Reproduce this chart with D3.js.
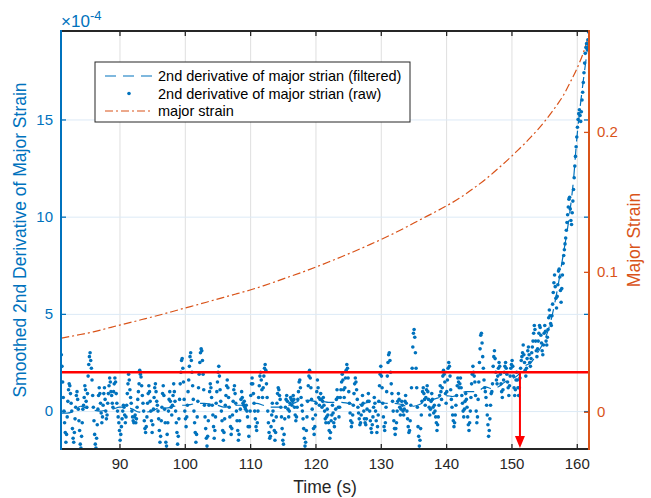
<!DOCTYPE html>
<html>
<head>
<meta charset="utf-8">
<script src="https://cdn.jsdelivr.net/npm/d3@7/dist/d3.min.js"></script>
<style>
body { margin: 0; background: #fff; }
svg text { font-family: "Liberation Sans", Arial, sans-serif; }
</style>
</head>
<body>
<div id="chart"></div>
<script>
// raw 2nd derivative, sampled every 0.1 s from 81.1 s (units of 1e-4)
const rawStart = 81.1, rawStep = 0.1;
const rawDeriv = [
  2.9, 2.3, 1.5, 0.7, 0.0, -0.6, -1.1, -1.6, -1.2, -0.3,
  0.5, 1.1, 1.4, 1.3, 0.9, 0.4, 0.0, -0.9, -1.4, -1.6,
  -1.1, -0.4, 0.2, 0.8, 1.0, 0.6, 0.1, -0.5, -1.0, -1.7,
  -1.9, -1.3, -0.6, 0.1, 0.3, 0.7, 1.3, 1.1, 0.5, 0.2,
  0.9, 1.8, 2.4, 2.8, 3.0, 2.6, 2.2, 1.6, 0.8, 0.2,
  -0.5, -1.2, -1.7, -1.9, -1.4, -0.7, 0.1, 0.8, 1.2, 0.9,
  0.4, -0.1, -0.6, -0.3, 0.3, 0.9, 1.2, 0.6, 0.0, -0.4,
  -0.2, 0.4, 0.9, 1.3, 1.7, 1.5, 1.0, 0.8, 0.4, 0.2,
  1.0, 1.4, 1.7, 1.5, 0.9, 0.4, 0.0, -0.3, -0.6, -1.0,
  -1.5, -1.2, -0.8, -0.4, 0.0, 0.3, 0.2, -0.2, -0.6, -0.3,
  0.3, 0.9, 1.4, 1.9, 1.6, 1.1, 0.7, 0.4, 0.0, -0.3,
  -0.5, -0.6, -0.3, -0.2, -0.6, -0.4, 0.2, 0.6, 1.0, 1.4,
  2.1, 1.9, 1.75, 1.3, 0.8, 0.4, 0.0, -0.5, -0.9, -1.1,
  -0.8, -0.3, 0.4, 0.9, 1.3, 1.0, 0.5, 0.0, -0.5, -1.1,
  -0.7, 0.1, 0.7, 1.2, 1.4, 1.0, 0.5, 0.3, 0.0, -0.4,
  -1.0, -1.6, -1.3, -0.5, 0.2, 0.9, 1.3, 0.8, 0.1, -0.6,
  -1.6, -1.8, -1.2, -0.6, 0.0, 0.6, 1.0, 0.5, 0.2, -0.2,
  0.3, 0.8, 1.4, 1.0, 0.5, 0.0, -0.6, -1.1, -1.7, -1.3,
  -0.4, 0.6, 1.4, 2.0, 2.6, 2.7, 2.2, 1.5, 0.6, 0.0,
  -0.4, -0.8, -0.3, 0.3, 1.0, 1.6, 2.3, 2.8, 3.0, 2.6,
  2.0, 1.3, 0.6, 0.0, -0.6, -1.1, -1.6, -1.2, -0.3, 0.5,
  1.2, 1.9, 2.5, 3.0, 3.2, 3.1, 2.6, 1.9, 1.1, 0.3,
  -0.3, -0.9, -1.4, -1.8, -1.3, -0.5, 0.3, 1.0, 1.4, 1.2,
  0.7, 0.3, -0.2, -0.8, -1.4, -1.0, -0.3, 0.4, 1.0, 1.5,
  2.0, 2.3, 1.8, 1.1, 0.5, 0.0, -0.5, -1.0, -1.5, -1.1,
  -0.4, 0.3, 0.8, 1.3, 1.6, 1.2, 0.7, 0.2, -0.3, -0.8,
  -1.2, -0.9, -0.2, 0.5, 1.1, 1.3, 0.9, 0.4, 0.0, -0.5,
  -1.0, -1.5, -1.2, -0.5, 0.1, 0.6, 1.0, 0.7, 0.4, 0.3,
  0.5, 0.2, 0.1, 0.3, 0.0, -0.3, -0.8, -1.3, -0.8, 0.0,
  0.8, 1.4, 1.7, 1.4, 0.9, 0.4, 0.0, -0.4, -0.8, -1.0,
  -0.6, 0.0, 0.7, 1.3, 1.8, 2.0, 1.6, 1.1, 0.7, 1.2,
  1.8, 2.2, 2.4, 2.1, 1.4, 0.7, 0.0, -0.6, -1.1, -1.4,
  -1.3, -0.8, -0.2, 0.4, 0.0, -0.5, -1.0, -1.5, -1.1, -0.3,
  0.4, 0.9, 1.2, 1.1, 0.8, 0.6, 0.2, -0.3, -0.9, -1.5,
  -1.7, -1.2, -0.4, 0.2, 0.6, 0.8, 0.5, 0.1, -0.3, 0.0,
  0.4, 0.7, 0.6, 0.3, 0.5, 0.8, 0.6, 0.2, -0.2, -0.5,
  -0.3, 0.2, 0.6, 1.0, 1.5, 1.6, 1.2, 0.7, 0.3, 0.0,
  -0.4, -0.9, -1.4, -1.8, -1.6, -1.0, -0.3, 0.5, 1.3, 1.8,
  2.1, 1.7, 1.2, 0.6, 0.1, -0.4, -0.9, -1.2, -0.8, -0.2,
  0.4, 1.0, 1.6, 1.2, 0.7, 0.3, 0.6, 0.9, 0.6, 0.2,
  0.5, 0.7, 0.3, 0.0, -0.4, -0.6, -0.3, 0.1, -0.2, -0.6,
  -1.0, -1.4, -1.1, -0.5, -0.2, 0.3, -0.1, -0.6, -0.8, -0.4,
  0.1, 0.6, 1.1, 0.7, 0.2, -0.3, 0.2, 0.7, 1.1, 1.5,
  1.9, 1.6, 1.1, 0.7, 1.2, 1.7, 2.1, 2.4, 2.2, 1.7,
  1.0, 0.4, -0.1, -0.5, -0.8, -0.6, -0.2, 0.3, 0.9, 1.4,
  1.7, 1.5, 1.1, 0.6, 0.2, -0.1, -0.4, -0.7, -0.6, -0.2,
  0.3, 0.8, 0.4, 0.0, -0.4, -0.6, -0.7, -0.4, 0.1, 0.5,
  0.9, 0.5, 0.0, -0.5, -0.9, -1.1, -0.7, -0.3, 0.2, 0.7,
  0.4, 0.0, -0.5, -1.1, -0.8, -0.2, 0.5, 1.3, 1.9, 2.3,
  1.8, 1.2, 0.4, -0.3, -0.8, -1.0, -0.6, 0.2, 1.0, 1.8,
  2.5, 2.9, 3.0, 2.6, 2.0, 1.4, 0.9, 0.5, 0.0, -0.5,
  -0.9, -1.2, -0.9, -0.6, 0.0, 0.5, 0.9, 0.6, 0.2, -0.2,
  0.1, 0.5, 0.3, 0.0, -0.2, 0.1, 0.5, 0.8, 0.4, 0.0,
  -0.4, -0.8, -1.1, -1.0, -0.5, 0.3, 1.2, 2.2, 3.3, 4.0,
  4.2, 3.8, 3.0, 2.2, 1.2, 0.2, -0.8, -1.3, -1.8, -1.5,
  -0.9, -0.2, 0.5, 1.0, 1.2, 0.9, 0.6, 0.3, 0.7, 1.1,
  1.3, 1.0, 0.6, 0.2, -0.2, 0.1, 0.5, 0.9, 0.6, 0.2,
  -0.1, 0.3, 0.0, -0.3, -0.6, -1.0, -0.7, -0.3, 0.3, 0.8,
  1.3, 1.0, 0.6, 1.2, 1.8, 2.1, 1.9, 1.5, 0.9, 0.4,
  1.0, 1.6, 2.2, 2.5, 2.3, 1.8, 1.1, 0.6, 0.2, -0.2,
  -0.5, -0.8, -0.6, -0.2, 0.3, 0.8, 1.3, 1.7, 1.5, 1.2,
  1.4, 1.7, 1.2, 0.8, 0.4, 0.0, -0.3, 0.1, 0.5, 0.9,
  0.6, 0.2, -0.3, -0.7, -1.0, -0.6, 0.0, 0.7, 1.4, 1.9,
  2.3, 2.0, 1.8, 1.5, 0.8, 0.0, -0.6, -0.3, 0.6, 1.5,
  2.5, 3.2, 3.9, 4.0, 3.5, 2.8, 2.2, 1.6, 1.2, 1.0,
  0.7, 0.3, -0.2, -0.7, -1.3, -1.0, -0.4, 0.3, 0.9, 1.0,
  1.4, 2.3, 2.8, 3.1, 2.7, 2.0, 1.6, 1.4, 1.8, 2.2,
  2.5, 2.3, 1.9, 1.4, 1.0, 0.7, 1.1, 1.6, 2.0, 2.3,
  2.5, 2.2, 1.9, 1.5, 1.2, 0.8, 1.3, 1.8, 2.2, 2.4,
  2.6, 2.3, 1.8, 1.2, 0.8, 1.1, 1.6, 2.0, 1.6, 1.2,
  0.8, 1.2, 1.7, 2.2, 2.6, 2.8, 3.0, 3.4, 2.9, 2.5,
  2.1, 1.8, 2.2, 2.7, 3.1, 3.3, 2.9, 2.5, 2.3, 2.7,
  3.0, 3.3, 3.6, 4.0, 4.4, 4.2, 3.6, 3.1, 2.8, 3.2,
  3.6, 4.0, 4.4, 4.3, 3.9, 3.5, 3.1, 2.9, 3.4, 4.0,
  4.4, 4.1, 3.6, 3.4, 3.8, 4.2, 4.8, 5.2, 4.9, 4.5,
  4.4, 4.9, 5.5, 6.1, 6.6, 7.0, 6.4, 5.8, 5.3, 5.9,
  6.5, 7.2, 7.3, 6.9, 6.2, 5.6, 6.3, 7.0, 7.6, 8.0,
  8.3, 8.6, 8.9, 9.3, 9.7, 10.1, 10.5, 10.9, 11.0, 10.4,
  9.8, 9.6, 10.2, 10.8, 11.4, 12.0, 12.6, 13.1, 13.6, 14.1,
  14.6, 15.0, 15.3, 15.5, 15.2, 14.9, 15.4, 16.0, 16.4, 16.9,
  17.4, 17.9, 18.4, 18.7, 18.9, 18.6, 19.1, 19.5
];

// filtered 2nd derivative (units of 1e-4)
const filtTime = [81.1, 82, 83, 84, 85, 86, 87, 88, 89, 90,
  91, 92, 93, 94, 95, 96, 97, 98, 99, 100,
  101, 102, 103, 104, 105, 106, 107, 108, 109, 110,
  111, 112, 113, 114, 115, 116, 117, 118, 119, 120,
  121, 122, 123, 124, 125, 126, 127, 128, 129, 130,
  131, 132, 133, 134, 135, 136, 137, 138, 139, 140,
  141, 142, 143, 144, 145, 146, 147, 148, 149, 150,
  151, 152, 153, 154, 155, 156, 157, 158,
  158.5, 159, 159.5, 160, 160.5, 161, 161.5, 161.9];
const filtDeriv = [-0.1, -0.1, 0.0, 0.25, 0.15, 0.05, 0.0, 0.05, 0.1, 0.2,
  0.2, 0.1, -0.05, -0.05, 0.0, 0.15, 0.15, 0.2, 0.3, 0.3,
  0.35, 0.4, 0.4, 0.35, 0.3, 0.2, 0.25, 0.3, 0.3, 0.35,
  0.4, 0.3, 0.2, 0.2, 0.2, 0.3, 0.45, 0.55, 0.55, 0.5,
  0.5, 0.45, 0.45, 0.45, 0.4, 0.35, 0.35, 0.45, 0.5, 0.45,
  0.4, 0.4, 0.35, 0.25, 0.25, 0.35, 0.55, 0.6, 0.7, 0.8,
  0.75, 0.85, 1.0, 1.0, 1.05, 1.25, 1.15, 1.25, 1.5, 1.65,
  1.85, 2.3, 2.5, 3.0, 3.6, 4.6, 6.2, 8.2,
  9.2, 10.4, 11.9, 14.0, 15.6, 17.0, 18.3, 19.4];

// major strain (right axis)
const strainTime = [81.1, 84, 86, 88, 90, 92, 94, 96, 98, 100,
  102, 104, 106, 108, 110, 112, 114, 116, 118, 120,
  122, 124, 126, 128, 130, 132, 134, 136, 138, 140,
  142, 144, 146, 148, 150, 151, 152, 153, 154, 155,
  156, 157, 158, 159, 160, 161, 161.9];
const strainVal = [0.0526, 0.0552, 0.0571, 0.0595, 0.0619, 0.0642, 0.0666, 0.0690, 0.0715, 0.0741,
  0.0766, 0.0792, 0.0818, 0.0844, 0.0870, 0.0900, 0.0932, 0.0965, 0.0998, 0.1033,
  0.1070, 0.1108, 0.1147, 0.1188, 0.1230, 0.1275, 0.1322, 0.1372, 0.1420, 0.1470,
  0.1525, 0.1590, 0.1660, 0.1740, 0.1825, 0.1870, 0.1915, 0.1965, 0.2015, 0.2070,
  0.2130, 0.2195, 0.2265, 0.2355, 0.2450, 0.2565, 0.2700];

const xTicks = [90, 100, 110, 120, 130, 140, 150, 160];
const leftTicks = [0, 5, 10, 15];
const rightTicks = [0, 0.1, 0.2];
const threshold = 2;     // 1e-4
const onsetTime = 151.3;
const legendLabels = ['2nd derivative of major strian (filtered)',
                      '2nd derivative of major strian (raw)',
                      'major strain'];

const blue = '#0072BD', orange = '#D95319', ink = '#262626';
const W = 651, H = 498;
const plot = {left: 61, right: 589, top: 31, bottom: 449};

const svg = d3.select('#chart').append('svg')
    .attr('width', W).attr('height', H);

const x = d3.scaleLinear().domain([81.05, 161.87]).range([plot.left, plot.right]);
const yL = d3.scaleLinear().domain([-1.95, 19.55]).range([plot.bottom, plot.top]);
const yR = d3.scaleLinear().domain([-0.0266, 0.2721]).range([plot.bottom, plot.top]);

svg.append('clipPath').attr('id', 'clip').append('rect')
    .attr('x', plot.left).attr('y', plot.top)
    .attr('width', plot.right - plot.left).attr('height', plot.bottom - plot.top);

// grid lines
svg.append('g')
    .attr('transform', `translate(0,${plot.bottom})`)
    .call(d3.axisBottom(x).tickValues(xTicks).tickSize(-(plot.bottom - plot.top)).tickFormat(''))
    .call(g => g.select('.domain').remove())
    .selectAll('line').attr('stroke', '#dfdfdf');
svg.append('g')
    .attr('transform', `translate(${plot.left},0)`)
    .call(d3.axisLeft(yL).tickValues(leftTicks).tickSize(-(plot.right - plot.left)).tickFormat(''))
    .call(g => g.select('.domain').remove())
    .selectAll('line').attr('stroke', '#dceaf6');

const body = svg.append('g').attr('clip-path', 'url(#clip)');

// major strain
const strainData = strainTime.map((t, i) => ({t, v: strainVal[i]}));
body.append('path')
    .datum(strainData)
    .attr('fill', 'none')
    .attr('stroke', orange)
    .attr('stroke-width', 1.2)
    .attr('stroke-dasharray', '8,3,2,3')
    .attr('d', d3.line().x(d => x(d.t)).y(d => yR(d.v)).curve(d3.curveMonotoneX));

// raw points
const rawData = rawDeriv.map((v, i) => ({t: rawStart + i * rawStep, v}));
body.selectAll('.raw')
    .data(rawData)
    .enter().append('circle')
    .attr('class', 'raw')
    .attr('cx', d => x(d.t))
    .attr('cy', d => yL(d.v))
    .attr('r', 1.8)
    .attr('fill', blue);

// filtered
const filtData = filtTime.map((t, i) => ({t, v: filtDeriv[i]}));
body.append('path')
    .datum(filtData)
    .attr('fill', 'none')
    .attr('stroke', blue)
    .attr('stroke-width', 1.2)
    .attr('stroke-dasharray', '11,7')
    .attr('d', d3.line().x(d => x(d.t)).y(d => yL(d.v)).curve(d3.curveMonotoneX));

// threshold line and onset arrow
body.append('line')
    .attr('x1', plot.left).attr('x2', plot.right)
    .attr('y1', yL(threshold)).attr('y2', yL(threshold))
    .attr('stroke', '#FF0000').attr('stroke-width', 2.5);
const ax = x(onsetTime);
body.append('line')
    .attr('x1', ax).attr('x2', ax)
    .attr('y1', yL(threshold)).attr('y2', plot.bottom - 10)
    .attr('stroke', '#FF0000').attr('stroke-width', 2);
body.append('path')
    .attr('d', `M${ax - 5},${plot.bottom - 13}L${ax + 5},${plot.bottom - 13}L${ax},${plot.bottom - 1}Z`)
    .attr('fill', '#FF0000');

// axes
function styleTicks(g, color) {
    g.select('.domain').remove();
    g.selectAll('line').attr('stroke', color).attr('stroke-width', 1.3);
    g.selectAll('text').attr('fill', color).style('font-size', '15px');
}
svg.append('g')
    .attr('transform', `translate(0,${plot.bottom})`)
    .call(d3.axisBottom(x).tickValues(xTicks).tickSizeInner(-5).tickSizeOuter(0).tickPadding(9))
    .call(g => styleTicks(g, ink));
svg.append('g')
    .attr('transform', `translate(0,${plot.top})`)
    .call(d3.axisTop(x).tickValues(xTicks).tickSizeInner(-5).tickSizeOuter(0).tickFormat(''))
    .call(g => styleTicks(g, ink));
svg.append('g')
    .attr('transform', `translate(${plot.left},0)`)
    .call(d3.axisLeft(yL).tickValues(leftTicks).tickSizeInner(-5).tickSizeOuter(0).tickPadding(8))
    .call(g => styleTicks(g, blue));
svg.append('g')
    .attr('transform', `translate(${plot.right},0)`)
    .call(d3.axisRight(yL).tickValues(leftTicks).tickSizeInner(-5).tickSizeOuter(0).tickFormat(''))
    .call(g => styleTicks(g, blue));
svg.append('g')
    .attr('transform', `translate(${plot.right},0)`)
    .call(d3.axisRight(yR).tickValues(rightTicks).tickSizeInner(-5).tickSizeOuter(0).tickPadding(8).tickFormat(d3.format('')))
    .call(g => styleTicks(g, orange));

// box
svg.append('line').attr('x1', plot.left).attr('x2', plot.right).attr('y1', plot.top).attr('y2', plot.top)
    .attr('stroke', ink).attr('stroke-width', 2);
svg.append('line').attr('x1', plot.left).attr('x2', plot.right).attr('y1', plot.bottom).attr('y2', plot.bottom)
    .attr('stroke', ink).attr('stroke-width', 2);
svg.append('line').attr('x1', plot.left).attr('x2', plot.left).attr('y1', plot.top - 1).attr('y2', plot.bottom + 1)
    .attr('stroke', blue).attr('stroke-width', 2);
svg.append('line').attr('x1', plot.right).attr('x2', plot.right).attr('y1', plot.top - 1).attr('y2', plot.bottom + 1)
    .attr('stroke', orange).attr('stroke-width', 2);

// exponent label
svg.append('text').attr('x', plot.left).attr('y', 27)
    .attr('fill', blue).attr('font-size', 17)
    .text('\u00d710');
svg.append('text').attr('x', plot.left + 29).attr('y', 20)
    .attr('fill', blue).attr('font-size', 13)
    .text('-4');

// axis titles
svg.append('text')
    .attr('x', (plot.left + plot.right) / 2).attr('y', 493)
    .attr('text-anchor', 'middle').attr('fill', ink)
    .style('font-size', '17.5px')
    .text('Time (s)');
svg.append('text')
    .attr('transform', `translate(26,${(plot.top + plot.bottom) / 2}) rotate(-90)`)
    .attr('text-anchor', 'middle').attr('fill', blue)
    .style('font-size', '17.5px')
    .text('Smoothed 2nd Derivative of Major Strain');
svg.append('text')
    .attr('transform', `translate(640,${(plot.top + plot.bottom) / 2}) rotate(-90)`)
    .attr('text-anchor', 'middle').attr('fill', orange)
    .style('font-size', '17.5px')
    .text('Major Strain');

// legend
const legend = svg.append('g');
legend.append('rect')
    .attr('x', 95).attr('y', 62).attr('width', 315).attr('height', 60)
    .attr('fill', '#fff').attr('stroke', ink).attr('stroke-width', 1);
const rowY = [76, 93.5, 111];
legend.append('line').attr('x1', 105).attr('x2', 153).attr('y1', rowY[0]).attr('y2', rowY[0])
    .attr('stroke', blue).attr('stroke-width', 1.2).attr('stroke-dasharray', '11,7');
legend.append('circle').attr('cx', 129).attr('cy', rowY[1]).attr('r', 1.8).attr('fill', blue);
legend.append('line').attr('x1', 105).attr('x2', 153).attr('y1', rowY[2]).attr('y2', rowY[2])
    .attr('stroke', orange).attr('stroke-width', 1.2).attr('stroke-dasharray', '8,3,2,3');
legend.selectAll('.lbl')
    .data(legendLabels)
    .enter().append('text')
    .attr('class', 'lbl')
    .attr('x', 158).attr('y', (d, i) => rowY[i]).attr('dy', '0.35em')
    .attr('fill', '#000')
    .style('font-size', '14.5px')
    .text(d => d);
</script>
</body>
</html>
